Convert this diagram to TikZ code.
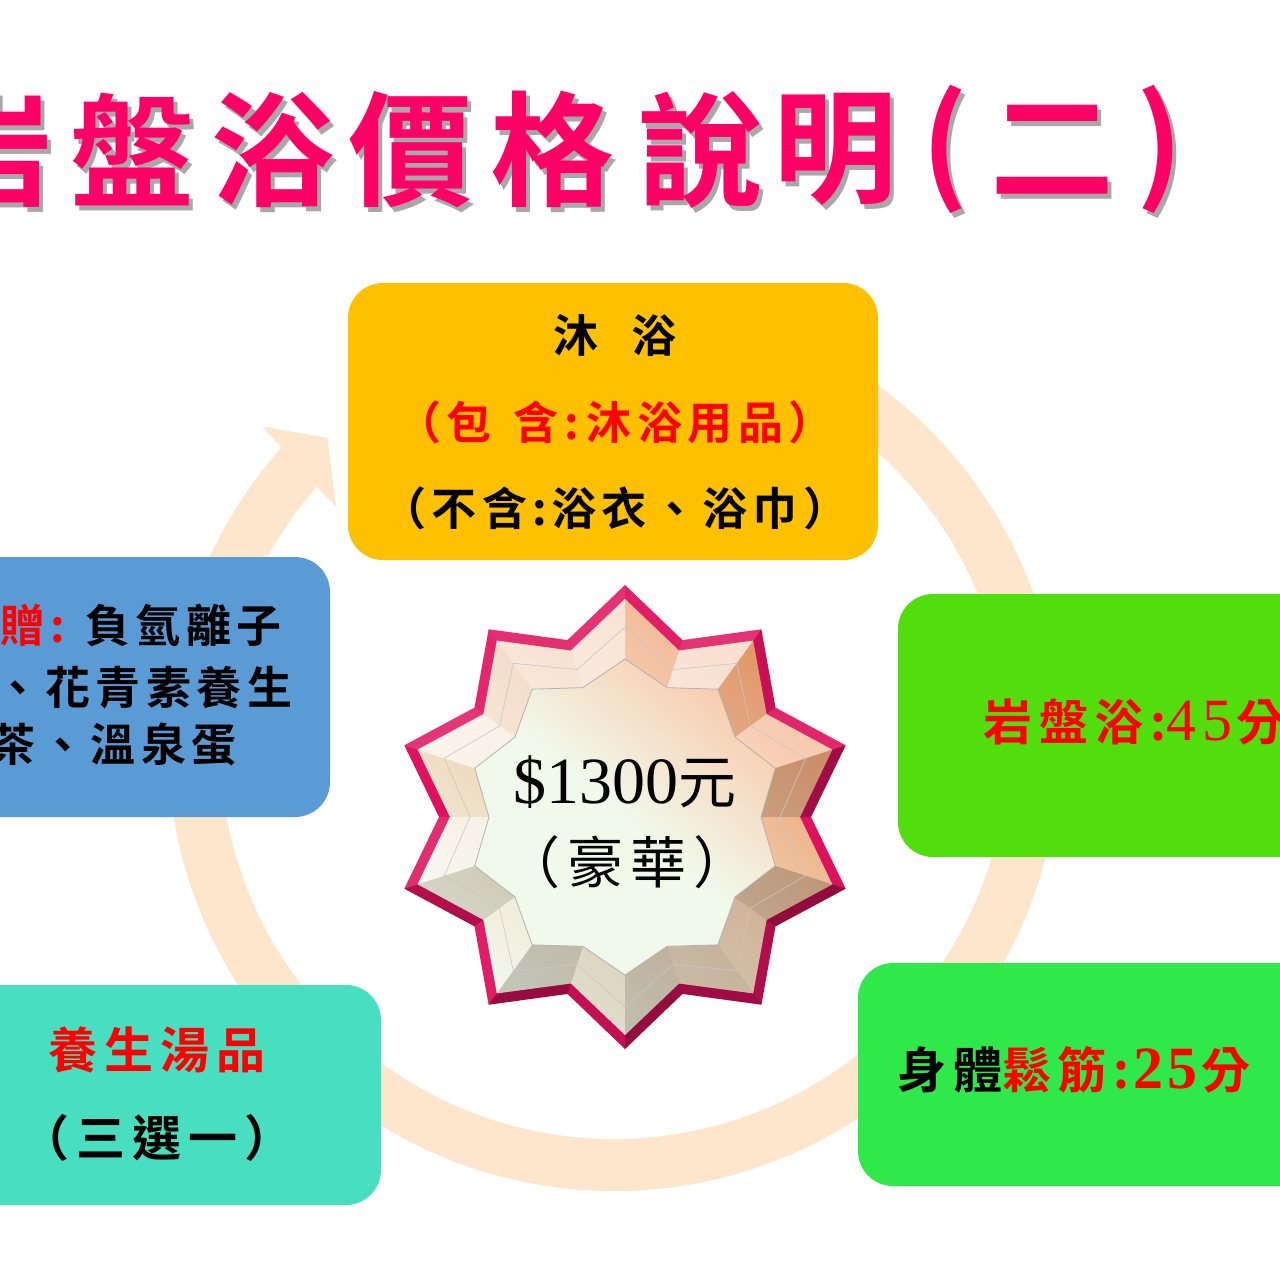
\documentclass[tikz,border=0pt]{standalone}
\usepackage{fontspec}
\usetikzlibrary{calc}
\newfontfamily\cjk[LetterSpace=12]{Noto Sans CJK TC}
\newfontfamily\cjkm[LetterSpace=12]{Noto Sans CJK TC Bold}
\newfontfamily\cjkw[LetterSpace=14]{Noto Sans CJK TC Bold}
\newfontfamily\cjkb{Noto Sans CJK TC Bold}
\newfontfamily\sdig[LetterSpace=10]{Liberation Serif}
\newfontfamily\sdigs{Liberation Serif}
\newfontfamily\sdigb[LetterSpace=6]{Liberation Serif Bold}
\definecolor{arcc}{HTML}{FDE6CC}
\definecolor{yboxc}{HTML}{FFC000}
\definecolor{bboxc}{HTML}{5B9BD5}
\definecolor{gonec}{HTML}{52DE0C}
\definecolor{gtwoc}{HTML}{2FE84A}
\definecolor{tealc}{HTML}{48DEC0}
\definecolor{titlepink}{HTML}{FF0066}
\definecolor{titleshadow}{HTML}{A8A8A8}
\definecolor{redtxt}{HTML}{FF0000}
\definecolor{rimc}{HTML}{E0125F}
\definecolor{bevpeach}{HTML}{F0A070}
\definecolor{bevgreen}{HTML}{EEF6E6}
\definecolor{facepeach}{HTML}{F8CDB0}
\definecolor{facegreen}{HTML}{F1F9EA}
\newcommand\fsz[1]{\fontsize{#1pt}{#1pt}\selectfont}
\newcommand\shch[1]{\makebox[0pt][l]{\kern4pt\raisebox{-5pt}{\textcolor{titleshadow}{#1}}}#1}
\tikzset{
  boxc/.style={rounded corners=35pt, inner sep=0pt, draw=none},
  ttl/.style={font={\cjkb\fsz{124}}, inner sep=0pt, text=titlepink},
  bt/.style={font={\cjkm\fsz{45}}, inner sep=0pt, text=black},
  btl/.style={font={\cjkw\fsz{49}}, inner sep=0pt, text=black},
}
\begin{document}
\begin{tikzpicture}[x=1pt,y=-1pt]
\useasboundingbox (0,0) rectangle (1280,1280);
\fill[white] (0,0) rectangle (1280,1280);
\clip (0,0) rectangle (1280,1280);

% title
\foreach \cx/\ch [count=\i] in {-8/岩,132/盤,272/浴,410/價,552/格,700/說,835/明,945/(,1052/二,1160/)} {
  \node[ttl] (t\i) at (\cx,152) {\shch{\ch}};
}

% circular arrow
\coordinate (C) at (614,745);
\fill[arcc] ($(C)+(-80:446)$) arc[start angle=-80,end angle=221.8,radius=446]
  -- ($(C)+(222.2:474)$) -- ($(C)+(227:420)$) -- ($(C)+(220.6:366)$)
  -- ($(C)+(221:394)$) arc[start angle=221,end angle=-80,radius=394] -- cycle;

% boxes
\node[boxc, fill=yboxc, minimum width=530pt, minimum height=277pt] (ybox) at (613,421.5) {};
\node[boxc, fill=bboxc, minimum width=390pt, minimum height=260pt] (bbox) at (135,687) {};
\node[boxc, fill=gonec, minimum width=442pt, minimum height=263pt] (gone) at (1119,725.5) {};
\node[boxc, fill=gtwoc, minimum width=482pt, minimum height=223pt] (gtwo) at (1099,1074.5) {};
\node[boxc, fill=tealc, minimum width=441pt, minimum height=220pt] (tbox) at (160.5,1095) {};

% star
\begin{scope}[shift={(625,817)}]
  % rim
  \fill[rimc] (-90:232) \foreach \k in {1,...,19} { -- ({-90+18*\k}:{mod(\k,2)==0 ? 232 : 186}) } -- cycle;
  \foreach \k in {0,...,19} {
    \pgfmathsetmacro\aa{-90+18*\k}
    \pgfmathsetmacro\ab{-90+18*(\k+1)}
    \pgfmathsetmacro\ra{mod(\k,2)==0 ? 232 : 186}
    \pgfmathsetmacro\rb{mod(\k,2)==0 ? 186 : 232}
    \pgfmathsetmacro\ia{mod(\k,2)==0 ? 218 : 175}
    \pgfmathsetmacro\ib{mod(\k,2)==0 ? 175 : 218}
    \pgfmathsetmacro\ddx{\rb*cos(\ab)-\ra*cos(\aa)}
    \pgfmathsetmacro\ddy{\rb*sin(\ab)-\ra*sin(\aa)}
    \pgfmathsetmacro\nn{sqrt(\ddx*\ddx+\ddy*\ddy)}
    \pgfmathsetmacro\lit{(0.89*\ddx-0.45*\ddy)/\nn}
    \pgfmathsetmacro\wop{max(0,\lit)*0.15}
    \pgfmathsetmacro\bop{max(0,-\lit)*0.35}
    \fill[white, fill opacity=\wop] (\aa:\ra) -- (\ab:\rb) -- (\ab:\ib) -- (\aa:\ia) -- cycle;
    \fill[black, fill opacity=\bop] (\aa:\ra) -- (\ab:\rb) -- (\ab:\ib) -- (\aa:\ia) -- cycle;
  }
  % bevel
  \shade[top color=bevpeach, bottom color=bevgreen, middle color=bevgreen!55!bevpeach, shading angle=-40]
    (-90:218) \foreach \k in {1,...,19} { -- ({-90+18*\k}:{mod(\k,2)==0 ? 218 : 175}) } -- cycle;
  \foreach \k in {0,...,19} {
    \pgfmathsetmacro\aa{-90+18*\k}
    \pgfmathsetmacro\ab{-90+18*(\k+1)}
    \pgfmathsetmacro\ra{mod(\k,2)==0 ? 218 : 175}
    \pgfmathsetmacro\rb{mod(\k,2)==0 ? 175 : 218}
    \pgfmathsetmacro\ia{mod(\k,2)==0 ? 158 : 136}
    \pgfmathsetmacro\ib{mod(\k,2)==0 ? 136 : 158}
    \pgfmathsetmacro\ddx{\rb*cos(\ab)-\ra*cos(\aa)}
    \pgfmathsetmacro\ddy{\rb*sin(\ab)-\ra*sin(\aa)}
    \pgfmathsetmacro\nn{sqrt(\ddx*\ddx+\ddy*\ddy)}
    \pgfmathsetmacro\lit{(0.89*\ddx-0.45*\ddy)/\nn}
    \pgfmathsetmacro\wop{max(0,\lit)*0.7}
    \pgfmathsetmacro\bop{max(0,-\lit)*0.2}
    \fill[white, fill opacity=\wop] (\aa:\ra) -- (\ab:\rb) -- (\ab:\ib) -- (\aa:\ia) -- cycle;
    \fill[black, fill opacity=\bop] (\aa:\ra) -- (\ab:\rb) -- (\ab:\ib) -- (\aa:\ia) -- cycle;
  }
  % mid contour
  \draw[black!22, line width=0.6pt] (-90:190) \foreach \k in {1,...,19} { -- ({-90+18*\k}:{mod(\k,2)==0 ? 190 : 155}) } -- cycle;
  % face
  \shade[top color=facepeach, bottom color=facegreen, middle color=facegreen, shading angle=-40]
    (-90:158) \foreach \k in {1,...,19} { -- ({-90+18*\k}:{mod(\k,2)==0 ? 158 : 136}) } -- cycle;
  \draw[black!30, line width=0.8pt] (-90:158) \foreach \k in {1,...,19} { -- ({-90+18*\k}:{mod(\k,2)==0 ? 158 : 136}) } -- cycle;
\end{scope}

% star text
\node[inner sep=0pt] (s1) at (625,782) {{\sdigs\fsz{66}\$1300}{\cjk\fsz{58}元}};
\node[inner sep=0pt, font={\cjk\fsz{56}}] (s2) at (627,862) {（豪華）};

% yellow box text
\node[bt] (y1) at (615,335) {沐\hspace{33pt}浴};
\node[bt, text=redtxt] (y2) at (615,422) {（包\hspace{22pt}含:\hspace{8pt}沐浴用品）};
\node[bt] (y3) at (615,508) {（不含:\hspace{4pt}浴衣、浴巾）};

% blue box text
\node[bt, anchor=west] (b1) at (0,625) {\textcolor{redtxt}{贈:}\hspace{20pt}負氫離子};
\node[bt, anchor=west] (b2) at (-5,688) {、花青素養生};
\node[bt, anchor=west] (b3) at (-10,745) {茶、溫泉蛋};

% green box 1
\node[btl, anchor=west, text=redtxt] (g1) at (983,722) {岩盤浴:{\sdig\fsz{60}45}\hspace{4pt}分};
% green box 2
\node[btl, anchor=west] (g2) at (897,1070) {身體\textcolor{redtxt}{鬆筋:\hspace{4pt}{\sdigb\fsz{60}25}\hspace{4pt}分}};

% teal box
\node[btl, text=redtxt] (tt1) at (157,1050) {養生湯品};
\node[btl] (tt2) at (157,1138) {（三選一）};
\end{tikzpicture}
\end{document}
